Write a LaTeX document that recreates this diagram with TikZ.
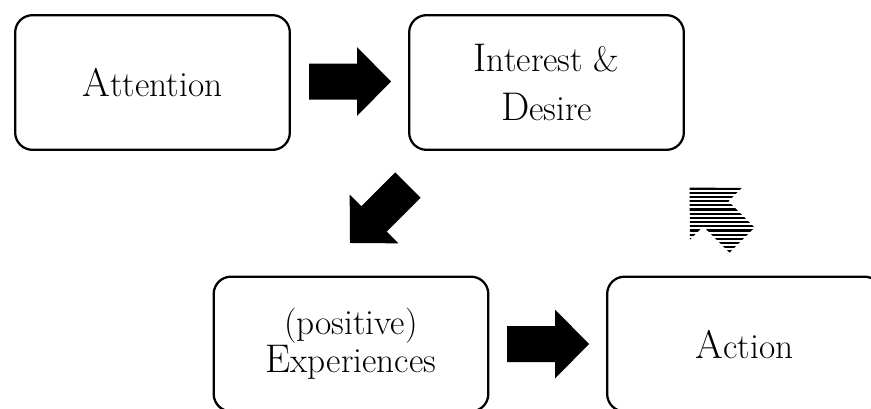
\documentclass[tikz,border=0pt]{standalone}
\usepackage{fontspec}
\newcommand\initial[1]{{\fontsize{30}{36}\selectfont #1}}
\begin{document}
\begin{tikzpicture}[x=0.75pt,y=-0.75pt,
  stagebox/.style={draw=black, line width=1.7pt, rounded corners=13pt,
    minimum width=206pt, minimum height=101pt, inner sep=0pt,
    align=center, font=\fontsize{26.5}{36.75}\selectfont},
  tightlines/.style={font=\fontsize{26.5}{28.5}\selectfont},
  pics/blockarrow/.style={code={
    \fill (0,-18) -- (#1,-18) -- (#1,-34.5) -- (#1+34,0) -- (#1,34.5)
      -- (#1,18) -- (0,18) -- cycle;}},
  stripe/.style={line width=1.65pt}
]
\useasboundingbox (0,0) rectangle (871,408);

% the four stages
\node[stagebox] (att) at (152.5,82.5) {\initial{A}ttention};
\node[stagebox] (int) at (546.5,82.5) {\initial{I}nterest \&\\\initial{D}esire};
\node[stagebox, tightlines] (exp) at (351,344) {(positive)\\\initial{E}xperiences};
\node[stagebox] (act) at (744.5,344) {\initial{A}ction};

% solid block arrows between the stages
\pic at (309,81.5) {blockarrow=48};
\pic[rotate=225] at (408,185) {blockarrow=48};
\pic at (507,344) {blockarrow=48};

% hatched arrow pointing back up from Action
\begin{scope}
  \clip[shift={(742,240)}, rotate=135]
    (0,-17.7) -- (37,-17.7) -- (37,-36.8) -- (74,0) -- (37,36.8)
    -- (37,17.7) -- (0,17.7) -- cycle;
  \foreach \k in {0,...,16}
    \draw[stripe] (680,{188.4+4.2*\k}) -- (770,{188.4+4.2*\k});
\end{scope}
\end{tikzpicture}
\end{document}
